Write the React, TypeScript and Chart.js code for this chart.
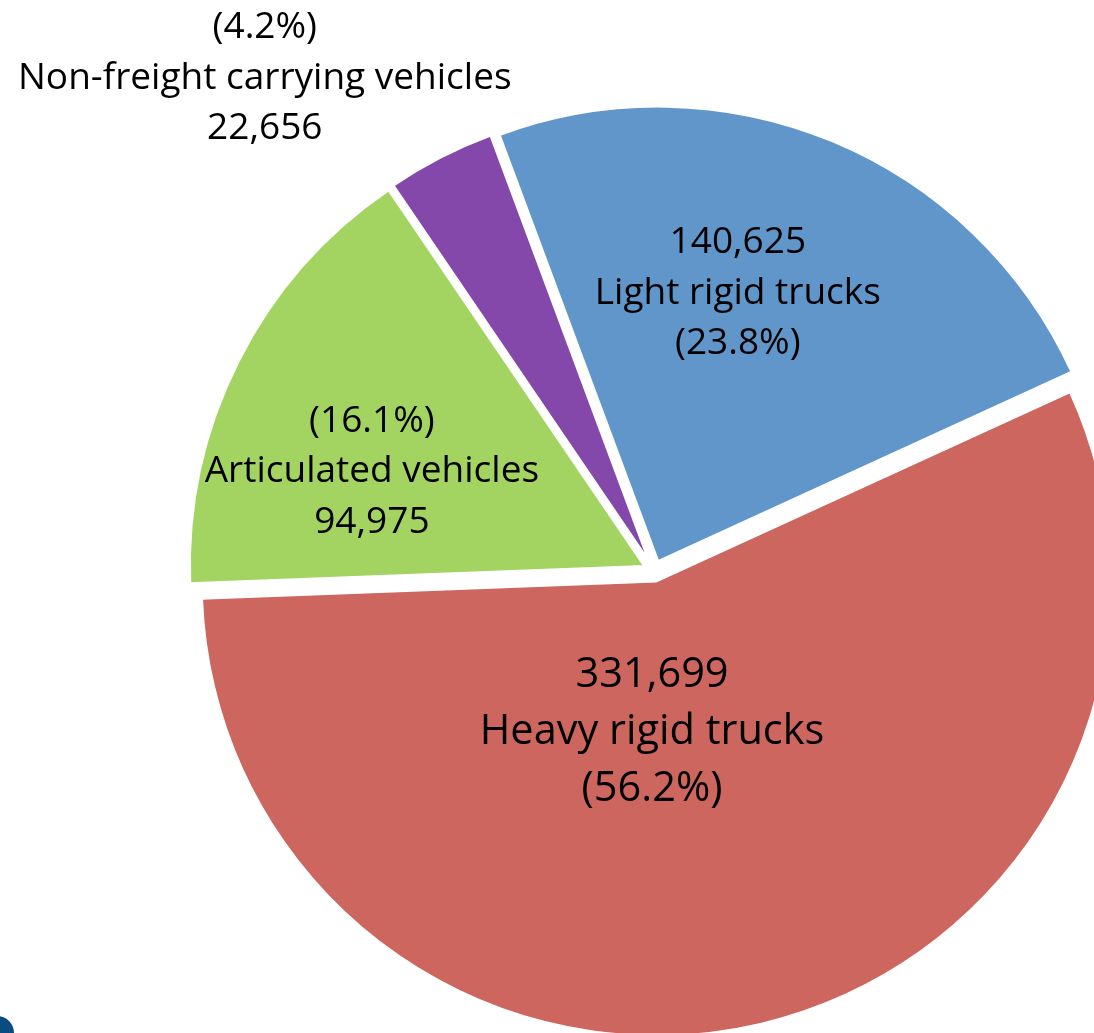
import { useEffect, useRef } from "react";
import { Chart, registerables } from "chart.js";

Chart.register(...registerables);

// ---- data ----
const categories = [
  "Light rigid trucks",
  "Heavy rigid trucks",
  "Articulated vehicles",
  "Non-freight carrying vehicles",
];
const vehicleCounts = [140625, 331699, 94975, 22656];
const countLabels = ["140,625", "331,699", "94,975", "22,656"];
const shareLabels = ["(23.8%)", "(56.2%)", "(16.1%)", "(4.2%)"];

// ---- styles / layout ----
const sliceColors = ["#6096C9", "#CC665E", "#A3D462", "#8448AA"];
const EXPLODE = 10.5;
const RADIUS = 455;
const CX = 654;
const CY = 571;
// label block: polar anchor (deg clockwise from top, px from centre), font size, line height, order
const labelAngles = [16.8, 180.7, -70.65, -38.3];
const labelDistances = [290, 161, 299, 628];
const labelFontSizes = [37, 41.5, 37, 37];
const labelLineHeights = [50.5, 57, 50.5, 50.5];
const labelCountFirst = [true, true, false, false];
const FONT = '"Open Sans", "Noto Sans", sans-serif';

const explodePlugin = {
  id: "explodeSlices",
  beforeDatasetDraw(chart: any, args: any) {
    const ctx = chart.ctx;
    args.meta.data.forEach((arc: any) => {
      const mid = (arc.startAngle + arc.endAngle) / 2;
      ctx.save();
      ctx.translate(Math.cos(mid) * EXPLODE, Math.sin(mid) * EXPLODE);
      arc.draw(ctx, chart.chartArea);
      ctx.restore();
    });
    return false;
  },
};

const labelPlugin = {
  id: "sliceLabels",
  afterDatasetsDraw(chart: any) {
    const ctx = chart.ctx;
    const arcs = chart.getDatasetMeta(0).data;
    if (!arcs.length) return;
    const cx = arcs[0].x;
    const cy = arcs[0].y;
    ctx.save();
    ctx.fillStyle = "#000000";
    ctx.textAlign = "center";
    ctx.textBaseline = "middle";
    categories.forEach((name, i) => {
      const a = (labelAngles[i] * Math.PI) / 180;
      const x = cx + Math.sin(a) * labelDistances[i];
      const y = cy - Math.cos(a) * labelDistances[i];
      const lines = labelCountFirst[i]
        ? [countLabels[i], name, shareLabels[i]]
        : [shareLabels[i], name, countLabels[i]];
      ctx.font = `${labelFontSizes[i]}px ${FONT}`;
      const lh = labelLineHeights[i];
      lines.forEach((t, j) => {
        ctx.fillText(t, x, y + (j - 1) * lh);
      });
    });
    ctx.restore();
  },
};

export default function App() {
  const ref = useRef<HTMLCanvasElement | null>(null);

  useEffect(() => {
    if (!ref.current) return;
    const chart = new Chart(ref.current, {
      type: "pie",
      data: {
        labels: categories,
        datasets: [
          {
            data: vehicleCounts,
            backgroundColor: sliceColors,
            borderColor: "#ffffff",
            borderWidth: 2.5,
          },
        ],
      },
      options: {
        responsive: false,
        animation: false,
        rotation: -20.4,
        radius: RADIUS,
        layout: { padding: 0 },
        plugins: {
          legend: { display: false },
          tooltip: { enabled: false },
        },
        events: [],
      } as any,
      plugins: [explodePlugin, labelPlugin],
    });
    return () => chart.destroy();
  }, []);

  return (
    <div
      style={{
        position: "absolute",
        left: 0,
        top: 0,
        width: 1094,
        height: 1033,
        overflow: "hidden",
        background: "#ffffff",
      }}
    >
      <canvas
        ref={ref}
        width={CX * 2}
        height={CY * 2}
        style={{ position: "absolute", left: 0, top: 0, width: CX * 2, height: CY * 2 }}
      />
      <div
        style={{
          position: "absolute",
          left: -20,
          top: 1016,
          width: 34,
          height: 34,
          borderRadius: "50%",
          background: "#0B4C80",
        }}
      />
    </div>
  );
}
